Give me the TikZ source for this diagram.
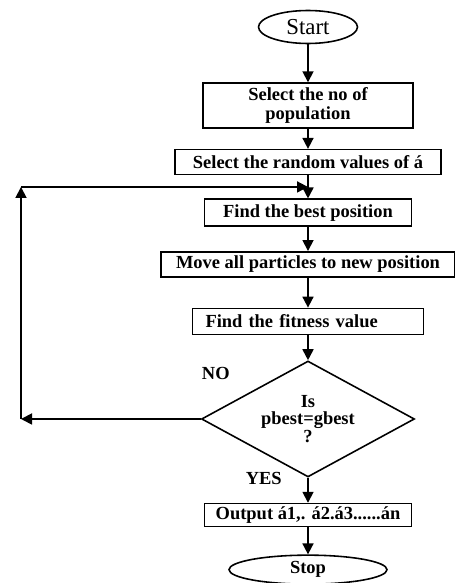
\documentclass[tikz,border=0pt]{standalone}
\usepackage{fontspec}
\setmainfont{Liberation Serif}
\usetikzlibrary{arrows.meta, positioning, shapes.geometric, calc}

\begin{document}
\begin{tikzpicture}[
  font=\fontsize{10.5}{11}\selectfont\bfseries,
  proc/.style={rectangle, draw, line width=0.9pt, minimum height=0.5cm,
               inner xsep=2pt, inner ysep=1pt, align=center},
  term/.style={ellipse, draw, line width=0.9pt, inner sep=0pt},
  decis/.style={diamond, draw, line width=0.9pt, aspect=1.84, inner sep=0pt,
                align=center, minimum width=4.26cm, minimum height=2.32cm,
                font=\fontsize{10.5}{10}\selectfont\bfseries},
  arr/.style={-{Triangle[length=2.2mm, width=2.2mm]}, line width=1pt},
  lbl/.style={inner sep=0pt},
]
\useasboundingbox (0,0) rectangle (9.1,-11.66);

% --- Inicio ---
\node[term, minimum width=1.98cm, minimum height=0.66cm,
      font=\fontsize{13}{13}\selectfont] (start) at (6.16,-0.54) {Start};

% --- Etapas ---
\node[proc, below=0.76cm of start, minimum width=4.2cm, minimum height=0.9cm] (popn)
  {Select the no of\\population};
\node[proc, below=0.4cm of popn, minimum width=5.32cm] (rand)
  {Select the random values of á};
\node[proc, below=0.46cm of rand, minimum width=4.14cm, minimum height=0.54cm] (best)
  {Find the best position};
\node[proc, below=0.48cm of best, minimum width=5.88cm] (move)
  {Move all particles to new position};
\node[proc, below=0.6cm of move, minimum height=0.52cm, text width=4.1cm,
      inner xsep=0.26cm, align=left] (fitv) {Find the fitness value};

% --- Decision ---
\node[decis, below=0.5cm of fitv] (check) {Is\\pbest=gbest\\?};
\node[lbl, left=1.56cm of check.north, yshift=-0.26cm] (no) {NO};
\node[lbl, left=0.52cm of check.south, yshift=-0.02cm] (yes) {YES};

% --- Salida ---
\node[proc, below=0.5cm of check, minimum width=4.14cm, minimum height=0.46cm] (out)
  {Output á1,. á2.á3......án};
\node[term, below=0.54cm of out, minimum width=3.16cm, minimum height=0.58cm] (stop) {Stop};

% --- Flujo principal ---
\draw[arr] (start) -- (popn);
\draw[arr] (popn)  -- (rand);
\draw[arr] (rand)  -- (best);
\draw[arr] (best)  -- (move);
\draw[arr] (move)  -- (fitv);
\draw[arr] (fitv)  -- (check);
\draw[arr] (check) -- (out);
\draw[arr] (out)   -- (stop);

% --- Lazo NO ---
\coordinate (join) at ($(rand.south)!0.5!(best.north)$);
\coordinate (ltop) at ($(join)+(-5.74,0)$);
\draw[arr] (check.west) -- (check.west -| ltop) coordinate (lbot);
\draw[arr] (lbot) -- (ltop);
\draw[arr] (ltop) -- (join);

\end{tikzpicture}
\end{document}
